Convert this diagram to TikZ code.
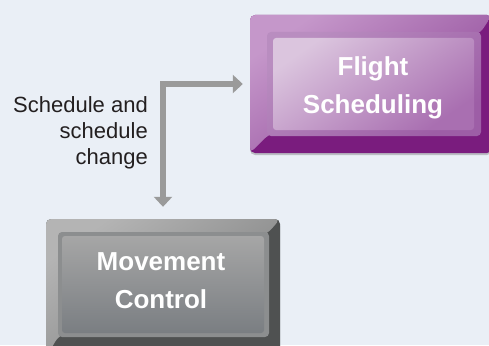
\documentclass[tikz,border=0pt]{standalone}
\usepackage{fontspec}
\setmainfont{Liberation Sans}
\usetikzlibrary{arrows.meta,shadows}

\definecolor{pagebg}{HTML}{EAEFF6}
\definecolor{linkgray}{HTML}{9A9A9A}
\definecolor{labeltext}{HTML}{231F20}
% purple box
\definecolor{fsBevelA}{HTML}{C597CA}
\definecolor{fsBevelM}{HTML}{A56AAD}
\definecolor{fsBevelB}{HTML}{8E4697}
\definecolor{fsDark}{HTML}{7A1C7E}
\definecolor{fsFrameA}{HTML}{B98DC0}
\definecolor{fsFrameB}{HTML}{9D5EA6}
\definecolor{fsFaceA}{HTML}{DBC5DE}
\definecolor{fsFaceM}{HTML}{C7A2CC}
\definecolor{fsFaceB}{HTML}{A96FB1}
% gray box
\definecolor{mcBevelA}{HTML}{B4B4B4}
\definecolor{mcBevelM}{HTML}{8F8F8F}
\definecolor{mcBevelB}{HTML}{7C7D7D}
\definecolor{mcDark}{HTML}{4F5151}
\definecolor{mcFrame}{HTML}{8C8E8F}
\definecolor{mcFaceA}{HTML}{A6A6A6}
\definecolor{mcFaceB}{HTML}{7A7E82}

\tikzset{
  boxshadow/.style={drop shadow={shadow xshift=0pt,shadow yshift=-2pt,opacity=.30,fill=black!70}},
  outerbox/.style={rectangle, rounded corners=5pt, inner sep=0pt, boxshadow},
  % bevel: lighter top and left band, darker right and bottom band
  bevel/.style n args={7}{path picture={
    \shade[left color=#1, middle color=#2, right color=#3, shading angle=35]
      (path picture bounding box.north west)
      -- (path picture bounding box.north east)
      -- ([shift={(-#5,#4)}]path picture bounding box.north east)
      -- ([shift={(#6,-#7)}]path picture bounding box.south west)
      -- (path picture bounding box.south west) -- cycle;}},
  fsouter/.style={outerbox, fill=fsDark, bevel={fsBevelA}{fsBevelM}{fsBevelB}{17}{11}{17}{17}},
  mcouter/.style={outerbox, fill=mcDark, bevel={mcBevelA}{mcBevelM}{mcBevelB}{13}{11}{12}{20}},
  boxlabel/.style={text=white, align=center, inner sep=0pt,
    font=\fontsize{26}{38}\selectfont\bfseries},
  linklabel/.style={text=labeltext, align=right, inner sep=0pt,
    font=\fontsize{22}{26}\selectfont},
  link/.style={draw=linkgray, line width=6pt,
    {Triangle[width=18pt,length=10pt]}-{Triangle[width=18pt,length=10pt]}}
}

\begin{document}
\begin{tikzpicture}[x=1pt,y=-1pt]
\useasboundingbox (0,0) rectangle (489,345);
\clip (0,0) rectangle (489,345);
\fill[pagebg] (0,0) rectangle (489,345);

% Flight Scheduling box
\node[fsouter, minimum width=242pt, minimum height=138pt] (fs) at (371,84) {};
\shade[left color=fsFrameA, right color=fsFrameB, shading angle=35, rounded corners=4pt]
  (267,32) rectangle (481,136);
\shade[left color=fsFaceA, middle color=fsFaceM, right color=fsFaceB, shading angle=35, rounded corners=3pt]
  (273,38) rectangle (474,130);
\node[boxlabel] (fstext) at (373,88) {Flight\\Scheduling};

% Movement Control box
\node[mcouter, minimum width=234pt, minimum height=138pt] (mc) at (163,288) {};
\fill[mcFrame, rounded corners=4pt] (58,232) rectangle (269,337);
\shade[top color=mcFaceA, bottom color=mcFaceB, rounded corners=3pt]
  (62,236) rectangle (264,333);
\node[boxlabel] (mctext) at (161,281) {Movement\\Control};

% connector between the two boxes
\draw[link] ([yshift=12pt]mc.north) |- ([xshift=-7pt]fs.west);
\node[linklabel, anchor=east] (lab) at (148,133) {Schedule and\\schedule\\change};
\end{tikzpicture}
\end{document}
